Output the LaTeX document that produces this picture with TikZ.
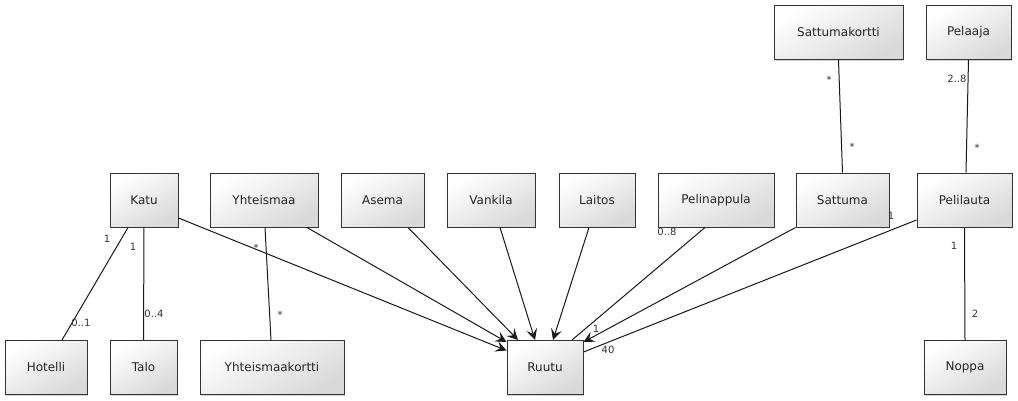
\documentclass[tikz,border=0pt]{standalone}
\usepackage{fontspec}
\setmainfont{DejaVu Sans}
\usetikzlibrary{positioning}
\usetikzlibrary{arrows.meta,shadows}

\begin{document}
\begin{tikzpicture}[x=1pt, y=-1pt, thick,
	>={Stealth[length=11pt,width=11pt,inset=4.5pt]},
	class/.style={rectangle,draw=black!80,line width=1pt,top color=white,bottom color=black!15,
		shading angle=30,drop shadow={shadow xshift=1pt,shadow yshift=-1pt,opacity=.35},
		minimum height=54pt,inner sep=0pt,font=\fontsize{12}{14}\selectfont,text=black!85},
	mult/.style={inner sep=0pt,font=\fontsize{10}{12}\selectfont,text=black!80},
	assoc/.style={draw=black!90,line width=1pt}]
	\useasboundingbox (0,0) rectangle (1018,400);
	% classes
	\node[class,minimum width=68pt] (katu) at (144,200) {Katu};
	\node[class,minimum width=108pt] (yhteismaa) at (264,200) {Yhteismaa};
	\node[class,minimum width=83pt] (asema) at (382.5,200) {Asema};
	\node[class,minimum width=88pt] (vankila) at (491,200) {Vankila};
	\node[class,minimum width=76pt] (laitos) at (597,200) {Laitos};
	\node[class,minimum width=116pt] (pelinappula) at (716,200) {Pelinappula};
	\node[class,minimum width=93pt] (sattuma) at (842.5,200) {Sattuma};
	\node[class,minimum width=95pt] (pelilauta) at (964.5,200) {Pelilauta};
	\node[class,minimum width=129pt] (sattumakortti) at (838.5,32.5) {Sattumakortti};
	\node[class,minimum width=85pt] (pelaaja) at (968.5,32.5) {Pelaaja};
	\node[class,minimum width=82pt] (hotelli) at (46,367.5) {Hotelli};
	\node[class,minimum width=67pt] (talo) at (143.5,367.5) {Talo};
	\node[class,minimum width=144pt] (yhteismaakortti) at (272,367.5) {Yhteismaakortti};
	\node[class,minimum width=76pt] (ruutu) at (545,367.5) {Ruutu};
	\node[class,minimum width=82pt] (noppa) at (965,367.5) {Noppa};
	% associations
	\path[every edge/.append style={assoc}]
	([xshift=-16pt]katu.south) edge ([xshift=16pt]hotelli.north)
	(katu.south) edge (talo.north)
	([xshift=1pt]yhteismaa.south) edge ([xshift=-1pt]yhteismaakortti.north)
	([xshift=-11pt]pelinappula.south) edge ([xshift=27pt]ruutu.north)
	([yshift=-20pt]pelilauta.west) edge ([yshift=15.5pt]ruutu.east)
	(sattumakortti.south) edge (sattuma.north)
	(pelaaja.south) edge ([xshift=1.5pt]pelilauta.north)
	(pelilauta.south) edge (noppa.north);
	\path[every edge/.append style={assoc,->}]
	([yshift=-18pt]katu.east) edge ([yshift=17pt]ruutu.west)
	([xshift=43pt]yhteismaa.south) edge ([yshift=-2pt]ruutu.north west)
	([xshift=25.5pt]asema.south) edge ([xshift=-27pt]ruutu.north)
	([xshift=9pt]vankila.south) edge ([xshift=-10pt]ruutu.north)
	([xshift=-8pt]laitos.south) edge ([xshift=8pt]ruutu.north)
	(sattuma.south west) edge ([yshift=-2pt]ruutu.north east);
	% multiplicities
	\node[mult] (m1) at (107,239) {1};
	\node[mult] (m2) at (81,323) {0..1};
	\node[mult] (m3) at (133,247) {1};
	\node[mult] (m4) at (154,314) {0..4};
	\node[mult] (m5) at (256,248) {*};
	\node[mult] (m6) at (280,315) {*};
	\node[mult] (m7) at (667,232) {0..8};
	\node[mult] (m8) at (596,329) {1};
	\node[mult] (m9) at (608,350) {40};
	\node[mult] (m10) at (891,216) {1};
	\node[mult] (m11) at (829,80) {*};
	\node[mult] (m12) at (852,147) {*};
	\node[mult] (m13) at (957,79) {2..8};
	\node[mult] (m14) at (977,148) {*};
	\node[mult] (m15) at (954,246) {1};
	\node[mult] (m16) at (975,314) {2};
\end{tikzpicture}
\end{document}
